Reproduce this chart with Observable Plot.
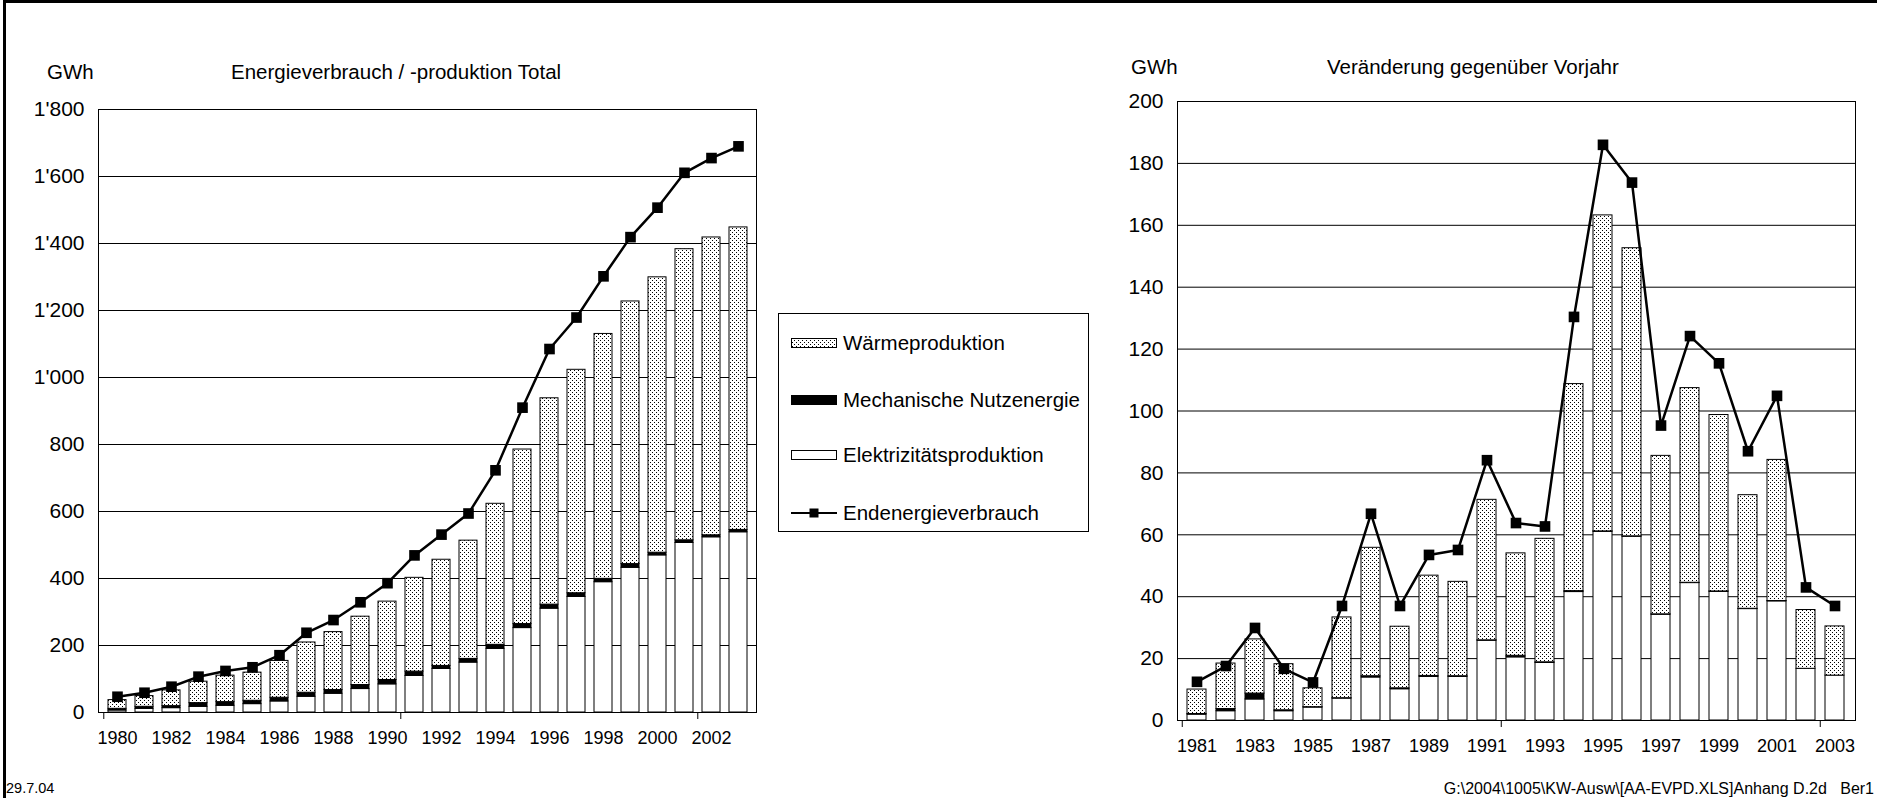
<!DOCTYPE html>
<html><head><meta charset="utf-8">
<script src="https://cdn.jsdelivr.net/npm/d3@7"></script>
<script src="https://cdn.jsdelivr.net/npm/@observablehq/plot@0.6"></script>
<style>
html,body{margin:0;padding:0;background:#fff;}
#page{position:relative;width:1877px;height:798px;overflow:hidden;font-family:"Liberation Sans",Arial,sans-serif;color:#000;background:#fff;}
.t{position:absolute;white-space:nowrap;line-height:1;}
.abs{position:absolute;}
#border{position:absolute;left:3px;top:0;width:1900px;height:900px;border-top:3px solid #000;border-left:3px solid #000;box-sizing:border-box;}
</style></head><body>
<div id="page">
<svg width="0" height="0" style="position:absolute">
 <defs>
  <pattern id="stip" patternUnits="userSpaceOnUse" width="4" height="4">
   <rect width="4" height="4" fill="#fff"/>
   <rect x="0" y="0" width="1" height="1" fill="#000"/>
   <rect x="2" y="2" width="1" height="1" fill="#000"/>
  </pattern>
 </defs>
</svg>
<div id="left" class="abs" style="left:0;top:0"></div>
<div id="right" class="abs" style="left:1100px;top:0"></div>
<div id="border"></div>
</div>
<script>
// ---------- Data: left chart (Energieverbrauch / -produktion Total, GWh) ----------
const yearsL = [1980,1981,1982,1983,1984,1985,1986,1987,1988,1989,1990,1991,1992,1993,1994,1995,1996,1997,1998,1999,2000,2001,2002,2003];
const elecL  = [6,11,13,17,20,25,33,47,56,70,84,109,130,149,190,252,310,345,389,432,469,506,523,538];
const mechL  = [5,6,6,11,11,10,11,12,11,12,13,13,9,11,12,12,12,11,10,11,8,8,6,7];
const heatL  = [26,32,47,64,79,84,110,150,173,204,234,280,317,353,421,521,616,667,731,784,822,869,889,903];
const endL   = [47,59,77,107,124,135,171,238,276,329,386,469,531,594,723,910,1085,1179,1302,1419,1507,1611,1655,1690];

// ---------- Data: right chart (Veränderung gegenüber Vorjahr, GWh) ----------
const yearsR = [1981,1982,1983,1984,1985,1986,1987,1988,1989,1990,1991,1992,1993,1994,1995,1996,1997,1998,1999,2000,2001,2002,2003];
const elecR  = [1.9,3.0,6.8,3.0,4.2,7.1,13.9,10.1,14.1,14.1,25.8,20.4,18.6,41.5,61.0,59.4,34.2,44.4,41.6,36.0,38.5,16.7,14.5];
const mechR  = [0.2,0.7,1.9,0.3,0.1,0.1,0.4,0.3,0.3,0.2,0.1,0.5,0.2,0.3,0.1,0.1,0.1,0.1,0.1,0.1,0.1,0,0];
const heatR  = [7.9,14.7,17.5,14.9,6.1,26.1,41.5,19.9,32.4,30.5,45.4,33.1,39.9,66.9,102.1,93.1,51.2,62.9,57.0,36.7,45.6,19.0,15.9];
const endR   = [12.5,17.6,29.9,16.7,12.3,37.0,66.8,37.0,53.5,55.1,84.1,63.8,62.7,130.4,186.0,173.8,95.3,124.2,115.4,87.0,104.9,43.0,37.0];

// ---------- Labels ----------
const seriesNames = ["Elektrizitätsproduktion","Mechanische Nutzenergie","Wärmeproduktion"];
const lineName = "Endenergieverbrauch";
const titleL = "Energieverbrauch / -produktion Total";
const titleR = "Veränderung gegenüber Vorjahr";
const unit = "GWh";
const yTicksL = [0,200,400,600,800,1000,1200,1400,1600,1800];
const yTicksR = [0,20,40,60,80,100,120,140,160,180,200];
const footLeft = "29.7.04";
const footRight = "G:\\2004\\1005\\KW-Ausw\\[AA-EVPD.XLS]Anhang D.2d   Ber1";

const fmt = d => d >= 1000 ? Math.floor(d/1000) + "'" + String(d % 1000).padStart(3, "0") : String(d);

function chart(o) {
  const {years, elec, mech, heat, endv, yTicks, width, height, mL, mR, mT, mB} = o;
  const rows = [];
  years.forEach((y, i) => {
    rows.push({year: y, series: seriesNames[0], value: elec[i]});
    rows.push({year: y, series: seriesNames[1], value: mech[i]});
    rows.push({year: y, series: seriesNames[2], value: heat[i]});
  });
  const line = years.map((y, i) => ({year: y, value: endv[i]}));
  const step = (width - mL - mR) / years.length;
  const plotH = height - mT - mB;
  const labelYears = years.filter((d, i) => i % 2 === 0);
  const tickYears = [years[0], years[11], years[22]];
  return Plot.plot({
    width, height, marginLeft: mL, marginRight: mR, marginTop: mT, marginBottom: mB,
    style: {fontFamily: '"Liberation Sans", Arial, sans-serif', color: "#000", background: "transparent", overflow: "visible"},
    x: {type: "band", domain: years, paddingInner: 0.34, paddingOuter: 0.17},
    y: {domain: [0, yTicks[yTicks.length - 1]]},
    color: {type: "ordinal", domain: seriesNames, range: ["#fff", "#000", "url(#stip)"]},
    marks: [
      Plot.ruleY(yTicks, {stroke: "#000", strokeWidth: 1}),
      Plot.barY(rows, {x: "year", y: "value", fill: "series", stroke: "#000", strokeWidth: 1}),
      Plot.frame({stroke: "#000", strokeWidth: 1}),
      Plot.ruleX(tickYears, {x: d => d, dx: -step / 2, insetTop: plotH, insetBottom: -7, stroke: "#000"}),
      Plot.axisX({ticks: labelYears, tickSize: 0, tickPadding: 19, fontSize: 18, tickFormat: d => String(d), label: null}),
      Plot.axisY({ticks: yTicks, tickSize: 0, tickPadding: 14, fontSize: 21, tickFormat: fmt, label: null}),
      Plot.line(line, {x: "year", y: "value", stroke: "#000", strokeWidth: 2.5}),
      Plot.dot(line, {x: "year", y: "value", symbol: "square", r: 6, fill: "#000", stroke: "none"})
    ]
  });
}

document.getElementById("left").appendChild(chart({
  years: yearsL, elec: elecL, mech: mechL, heat: heatL, endv: endL, yTicks: yTicksL,
  width: 780, height: 760, mL: 98, mR: 24, mT: 109, mB: 48
}));
document.getElementById("right").appendChild(chart({
  years: yearsR, elec: elecR, mech: mechR, heat: heatR, endv: endR, yTicks: yTicksR,
  width: 777, height: 760, mL: 77, mR: 22, mT: 101, mB: 40
}));

// ---------- Text ----------
const page = document.getElementById("page");
function txt(s, left, top, size, extra) {
  const d = document.createElement("div");
  d.className = "t";
  d.textContent = s;
  d.style.left = left + "px";
  d.style.top = top + "px";
  d.style.fontSize = size + "px";
  if (extra) Object.assign(d.style, extra);
  page.appendChild(d);
  return d;
}
txt(unit, 47, 62, 20.5);
txt(titleL, 231, 62, 20.5);
txt(unit, 1131, 57, 20.5);
txt(titleR, 1327, 57, 20.5);
txt(footLeft, 6, 781, 14.5);
txt(footRight, 0, 781, 16, {left: "auto", right: "3px", whiteSpace: "pre"});

// ---------- Legend ----------
const lg = document.createElement("div");
lg.className = "abs";
Object.assign(lg.style, {left: "778px", top: "313px", width: "311px", height: "219px", border: "1px solid #000", boxSizing: "border-box", background: "#fff"});
page.appendChild(lg);
const legendItems = [
  {name: seriesNames[2], kind: "stip", cy: 343},
  {name: seriesNames[1], kind: "black", cy: 400},
  {name: seriesNames[0], kind: "white", cy: 455},
  {name: lineName, kind: "line", cy: 513}
];
legendItems.forEach(it => {
  const s = document.createElementNS("http://www.w3.org/2000/svg", "svg");
  s.setAttribute("width", 48); s.setAttribute("height", 14);
  s.style.position = "absolute"; s.style.left = "790px"; s.style.top = (it.cy - 7) + "px";
  if (it.kind === "line") {
    s.innerHTML = '<line x1="1" x2="47" y1="7" y2="7" stroke="#000" stroke-width="2"/><rect x="19.5" y="2.5" width="9" height="9" fill="#000"/>';
  } else {
    const f = it.kind === "stip" ? "url(#stip)" : it.kind === "black" ? "#000" : "#fff";
    s.innerHTML = '<rect x="1.5" y="2.5" width="45" height="9" fill="' + f + '" stroke="#000" stroke-width="1"/>';
  }
  page.appendChild(s);
  txt(it.name, 843, it.cy - 10, 20.5);
});
</script>
</body></html>
